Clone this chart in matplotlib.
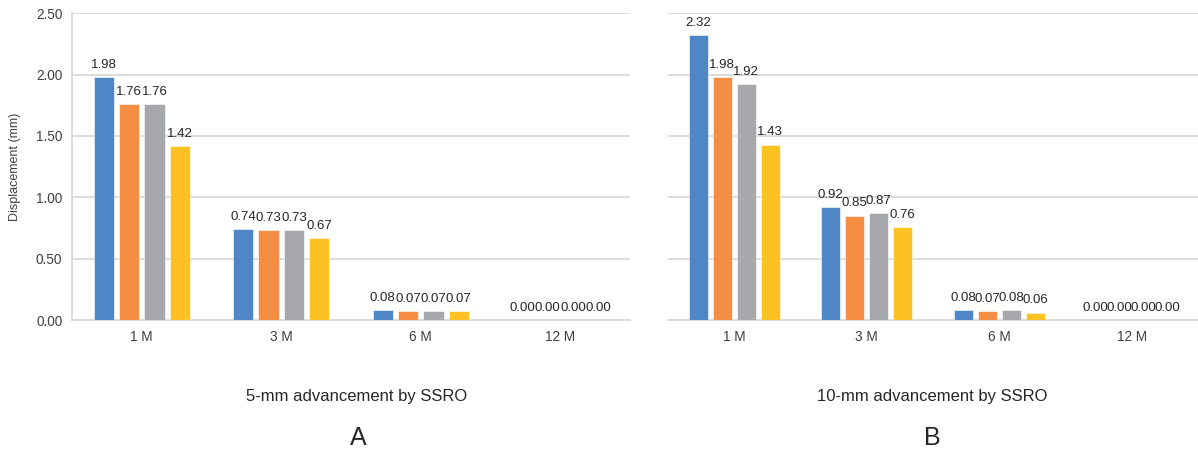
import numpy as np
import matplotlib.pyplot as plt

plt.rcParams['font.family'] = ['Liberation Sans', 'DejaVu Sans']

months = ['1 M', '3 M', '6 M', '12 M']
colors = ['#4e86c6', '#f68d45', '#a7a8ab', '#fec122']

# panel A: 5-mm advancement
a_s1 = [1.98, 0.74, 0.08, 0.00]
a_s2 = [1.76, 0.73, 0.07, 0.00]
a_s3 = [1.76, 0.73, 0.07, 0.00]
a_s4 = [1.42, 0.67, 0.07, 0.00]

# panel B: 10-mm advancement
b_s1 = [2.32, 0.92, 0.08, 0.00]
b_s2 = [1.98, 0.85, 0.07, 0.00]
b_s3 = [1.92, 0.87, 0.08, 0.00]
b_s4 = [1.43, 0.76, 0.06, 0.00]

fig = plt.figure(figsize=(11.98, 4.53), dpi=100)
ax1 = fig.add_axes([72 / 1198, 1 - 320 / 453, 558 / 1198, 306.7 / 453])
ax2 = fig.add_axes([668 / 1198, 1 - 320 / 453, 530 / 1198, 306.7 / 453])

x = np.arange(len(months))
offsets = [-0.272, -0.091, 0.091, 0.272]
width = 0.145


def draw(ax, series, show_y):
    for s, off, c in zip(series, offsets, colors):
        bars = ax.bar(x + off, s, width, color=c, edgecolor='white', linewidth=0.4, zorder=3)
        ax.bar_label(bars, labels=['%.2f' % v for v in s], padding=4.5,
                     fontsize=9.5, color='#262626')
    ax.set_xlim(-0.5, 3.5)
    ax.set_ylim(0, 2.5)
    ax.set_yticks(np.arange(0, 2.51, 0.5))
    ax.grid(axis='y', color='#d9d9d9', linewidth=1.3, zorder=0)
    ax.set_xticks(x)
    ax.set_xticklabels(months)
    ax.tick_params(length=0, labelsize=9.8, colors='#404040', pad=7)
    for sp in ['top', 'right']:
        ax.spines[sp].set_visible(False)
    ax.spines['bottom'].set_color('#d9d9d9')
    ax.spines['bottom'].set_linewidth(1.3)
    if show_y:
        ax.spines['left'].set_color('#d9d9d9')
        ax.spines['left'].set_linewidth(1.3)
        ax.yaxis.set_major_formatter(plt.FormatStrFormatter('%.2f'))
        ax.set_ylabel('Displacement (mm)', fontsize=9, color='#404040', labelpad=11)
    else:
        ax.spines['left'].set_visible(False)
        ax.set_yticklabels([])


draw(ax1, [a_s1, a_s2, a_s3, a_s4], True)
draw(ax2, [b_s1, b_s2, b_s3, b_s4], False)

fig.text(357 / 1198, 1 - 396 / 453, '5-mm advancement by SSRO', ha='center', va='center',
         fontsize=12, color='#262626')
fig.text(932 / 1198, 1 - 396 / 453, '10-mm advancement by SSRO', ha='center', va='center',
         fontsize=12, color='#262626')
fig.text(358 / 1198, 1 - 438 / 453, 'A', ha='center', va='center', fontsize=18, color='#262626')
fig.text(932 / 1198, 1 - 438 / 453, 'B', ha='center', va='center', fontsize=18, color='#262626')

fig.savefig('out.png', dpi=100)
